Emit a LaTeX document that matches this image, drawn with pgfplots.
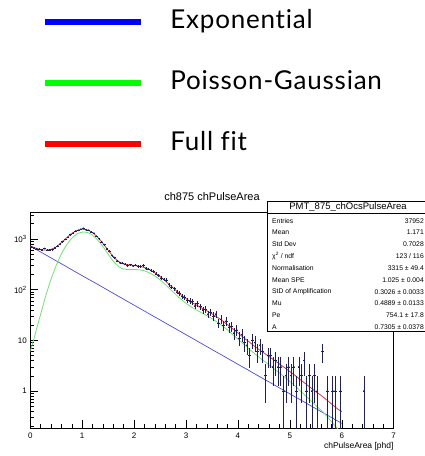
\documentclass[border=0pt]{standalone}
\usepackage{fontspec}
\setmainfont{Liberation Sans}
\newfontfamily\legfont[Ligatures=NoCommon,LetterSpace=3]{Lato}
\usepackage{pgfplots}
\usepackage{pgfplotstable}
\pgfplotsset{compat=1.18}

\definecolor{cexp}{rgb}{0.30,0.30,0.85}
\definecolor{cpg}{rgb}{0.45,0.88,0.45}
\definecolor{cfull}{rgb}{0.85,0.20,0.25}
\definecolor{cdata}{rgb}{0.12,0.12,0.35}

\pgfplotstableread{
x y
0.0 724
0.1 633
0.2 554
0.3 484
0.4 423
0.5 370
0.6 324
0.7 283
0.8 247
0.9 216
1.0 189
1.1 165
1.2 145
1.3 127
1.4 111
1.5 96.7
1.6 84.6
1.7 73.9
1.8 64.7
1.9 56.5
2.0 49.4
2.1 43.2
2.2 37.8
2.3 33.0
2.4 28.9
2.5 25.3
2.6 22.1
2.7 19.3
2.8 16.9
2.9 14.8
3.0 12.9
3.1 11.3
3.2 9.87
3.3 8.63
3.4 7.55
3.5 6.60
3.6 5.77
3.7 5.05
3.8 4.41
3.9 3.86
4.0 3.37
4.1 2.95
4.2 2.58
4.3 2.25
4.4 1.97
4.5 1.72
4.6 1.51
4.7 1.32
4.8 1.15
4.9 1.01
5.0 0.881
5.1 0.770
5.2 0.674
5.3 0.589
5.4 0.515
5.5 0.450
5.6 0.394
5.7 0.344
5.8 0.301
5.9 0.263
6.0 0.230
}\expdata

\pgfplotstableread{
x y
0.0 6
0.1 14
0.2 33
0.3 77
0.4 161
0.5 302
0.6 508
0.7 766
0.8 1035
0.9 1255
1.0 1367
1.1 1339
1.2 1184
1.3 952
1.4 707
1.5 502
1.6 363
1.7 286
1.8 255
1.9 250
2.0 250
2.1 246
2.2 235
2.3 213
2.4 187
2.5 156
2.6 127
2.7 101
2.8 81
2.9 65
3.0 54
3.1 45.7
3.2 39.8
3.3 35.0
3.4 30.7
3.5 26.8
3.6 22.9
3.7 19.3
3.8 16.0
3.9 13.0
4.0 10.6
4.1 8.6
4.2 7.0
4.3 5.7
4.4 4.69
4.5 3.92
4.6 3.27
4.7 2.73
4.8 2.27
4.9 1.88
5.0 1.54
5.1 1.26
5.2 1.01
5.3 0.81
5.4 0.65
5.5 0.52
5.6 0.42
5.7 0.33
5.8 0.25
5.9 0.19
6.0 0.15
}\pgdata

\pgfplotstableread{
x y
0.0 730
0.1 660
0.2 615
0.3 605
0.4 625
0.5 700
0.6 850
0.7 1055
0.8 1282
0.9 1471
1.0 1556
1.1 1504
1.2 1329
1.3 1079
1.4 818
1.5 599
1.6 448
1.7 360
1.8 320
1.9 307
2.0 299
2.1 289
2.2 273
2.3 246
2.4 216
2.5 181
2.6 149
2.7 120
2.8 98
2.9 80
3.0 67
3.1 57
3.2 49.7
3.3 43.6
3.4 38.3
3.5 33.4
3.6 28.7
3.7 24.4
3.8 20.4
3.9 16.9
4.0 14.0
4.1 11.5
4.2 9.6
4.3 7.95
4.4 6.66
4.5 5.64
4.6 4.78
4.7 4.05
4.8 3.42
4.9 2.89
5.0 2.42
5.1 2.03
5.2 1.68
5.3 1.40
5.4 1.17
5.5 0.97
5.6 0.82
5.7 0.68
5.8 0.56
5.9 0.46
6.0 0.39
}\fulldata

\pgfplotstableread{
x y e em
0.025 700 26.5 26.5
0.075 660 25.7 25.7
0.125 640 25.3 25.3
0.175 625 25.0 25.0
0.225 610 24.7 24.7
0.275 650 25.5 25.5
0.325 600 24.5 24.5
0.375 610 24.7 24.7
0.425 620 24.9 24.9
0.475 670 25.9 25.9
0.525 720 26.8 26.8
0.575 790 28.1 28.1
0.625 890 29.8 29.8
0.675 980 31.3 31.3
0.725 1080 32.9 32.9
0.775 1220 34.9 34.9
0.825 1310 36.2 36.2
0.875 1430 37.8 37.8
0.925 1480 38.5 38.5
0.975 1560 39.5 39.5
1.025 1620 40.2 40.2
1.075 1520 39.0 39.0
1.125 1490 38.6 38.6
1.175 1370 37.0 37.0
1.225 1300 36.1 36.1
1.275 1130 33.6 33.6
1.325 1020 31.9 31.9
1.375 870 29.5 29.5
1.425 770 27.7 27.7
1.475 640 25.3 25.3
1.525 570 23.9 23.9
1.575 470 21.7 21.7
1.625 430 20.7 20.7
1.675 370 19.2 19.2
1.725 340 18.4 18.4
1.775 335 18.3 18.3
1.825 318 17.8 17.8
1.875 300 17.3 17.3
1.925 310 17.6 17.6
1.975 296 17.2 17.2
2.025 305 17.5 17.5
2.075 290 17.0 17.0
2.125 288 17.0 17.0
2.175 300 17.3 17.3
2.225 262 16.2 16.2
2.275 255 16.0 16.0
2.325 240 15.5 15.5
2.375 228 15.1 15.1
2.425 205 14.3 14.3
2.475 192 13.9 13.9
2.525 170 13.0 13.0
2.575 160 12.6 12.6
2.625 155 12.4 12.4
2.675 125 11.2 11.2
2.725 112 10.6 10.6
2.775 105 10.2 10.2
2.825 90 9.5 9.5
2.875 86 9.3 9.3
2.925 73 8.5 8.5
2.975 71 8.4 8.4
3.025 62 7.9 7.9
3.075 60 7.7 7.7
3.125 58 7.6 7.6
3.175 48 6.9 6.9
3.225 53 7.3 7.3
3.275 46 6.8 6.8
3.325 40 6.3 6.3
3.375 41 6.4 6.4
3.425 33 5.7 5.7
3.475 36 6.0 6.0
3.525 30 5.5 5.5
3.575 33 5.7 5.7
3.625 22 4.7 4.7
3.675 26 5.1 5.1
3.725 20 4.5 4.5
3.775 24 4.9 4.9
3.825 18 4.2 4.2
3.875 19 4.4 4.4
3.925 14 3.7 3.7
3.975 16 4.0 4.0
4.025 11 3.3 3.3
4.075 13 3.6 3.6
4.125 9 3.0 3.0
4.175 8 2.8 2.8
4.225 5 2.2 2.2
4.275 10 3.2 3.2
4.325 9 3.0 3.0
4.375 6 2.4 2.4
4.425 8 2.8 2.8
4.475 6 2.4 2.4
4.525 2 1.41 1.41
4.575 5 2.2 2.2
4.625 5 2.2 2.2
4.675 3 1.73 1.73
4.725 4 2.0 2.0
4.775 3 1.73 1.73
4.825 3 1.73 1.73
4.875 1 1 0.999
4.925 2 1.41 1.41
4.975 3 1.73 1.73
5.025 2 1.41 1.41
5.075 3 1.73 1.73
5.125 1 1 0.999
5.175 3 1.73 1.73
5.225 2 1.41 1.41
5.275 4 2.0 2.0
5.325 1 1 0.999
5.375 2 1.41 1.41
5.425 1 1 0.999
5.475 2 1.41 1.41
5.525 1 1 0.999
5.625 6 2.45 2.45
5.725 1 1 0.999
5.825 1 1 0.999
5.875 1 1 0.999
5.975 1 1 0.999
6.425 1 1 0.999
}\histdata

\begin{document}
\begin{tikzpicture}[x=1pt,y=1pt]
\useasboundingbox (0pt,0pt) rectangle (425pt,456pt);
\clip (0pt,0pt) rectangle (425pt,456pt);
\begin{axis}[
  at={(30.3pt,27.7pt)}, anchor=south west, scale only axis,
  width=363.4pt, height=215.6pt,
  xmin=0, xmax=7, ymode=log, ymin=0.184, ymax=3300,
  xtick={0,1,2,3,4,5,6,7}, minor x tick num=4,
  ytick={1,10,100,1000},
  yticklabels={1,10,10\textsuperscript{2},10\textsuperscript{3}},
  minor ytick={0.2,0.3,0.4,0.5,0.6,0.7,0.8,0.9,2,3,4,5,6,7,8,9,20,30,40,50,60,70,80,90,200,300,400,500,600,700,800,900,2000,3000},
  xtick pos=bottom, ytick pos=left,
  tick align=inside,
  major tick length=8pt, minor tick length=4pt,
  every tick/.style={black, line width=0.5pt},
  axis line style={line width=0.8pt},
  /pgf/number format/assume math mode=true,
  tick label style={font=\fontsize{8}{9}\selectfont},
  xticklabel style={yshift=-1pt},
  title={ch875 chPulseArea},
  title style={at={(axis description cs:0.5,1)}, anchor=center, yshift=9.7pt, font=\fontsize{11}{12}\selectfont},
  xlabel={chPulseArea [phd]},
  xlabel style={at={(axis description cs:1,0)}, anchor=east, yshift=-17.7pt, inner sep=0pt, font=\fontsize{8.5}{9}\selectfont},
  legend style={at={(axis description cs:0.0322,1.9394)}, anchor=north west, draw=none, fill=none, inner sep=0pt,
    row sep=37.5pt, column sep=26.7pt, font=\legfont\fontsize{26}{26}\selectfont,
    nodes={inner sep=0pt, text height=18.5pt, text depth=5pt}},
  legend cell align=left,
  legend image code/.code={\draw[#1,line width=5.5pt] (0pt,0pt) -- (96pt,0pt);},
]
\addplot[cexp, line width=0.7pt, forget plot] table[x=x,y=y] {\expdata};
\addplot[cpg, line width=0.8pt, smooth, forget plot] table[x=x,y=y] {\pgdata};
\addplot[cfull, line width=0.8pt, smooth, forget plot] table[x=x,y=y] {\fulldata};
\addplot[cdata, only marks, mark=*, mark size=0.6pt, forget plot,
  error bars/.cd, y dir=both, y explicit, x dir=both, x fixed=0.025,
  error bar style={cdata, line width=0.6pt}, error mark=none]
  table[x=x,y=y,y error plus=e,y error minus=em] {\histdata};
\addlegendimage{color=blue}
\addlegendentry{Exponential}
\addlegendimage{color=green}
\addlegendentry{Poisson-Gaussian}
\addlegendimage{color=red}
\addlegendentry{Full fit}
\end{axis}
\draw[line width=0.8pt, fill=white] (267.7pt,124.3pt) rectangle (432pt,255pt);
\draw[line width=0.6pt] (267.7pt,242.7pt) -- (432pt,242.7pt);
\node[font=\fontsize{9.5}{10}\selectfont, anchor=center] at (348pt,248.8pt) {PMT\_875\_chOcsPulseArea};
\begin{scope}[every node/.style={font=\fontsize{6.8}{7}\selectfont, inner sep=0pt}]
\node[anchor=west] at (272pt,235.3pt) {Entries};
\node[anchor=east] at (424pt,235.3pt) {37952};
\node[anchor=west] at (272pt,223.4pt) {Mean};
\node[anchor=east] at (424pt,223.4pt) {1.171};
\node[anchor=west] at (272pt,211.6pt) {Std Dev};
\node[anchor=east] at (424pt,211.6pt) {0.7028};
\node[anchor=west] at (272pt,199.8pt) {χ\textsuperscript{2} / ndf};
\node[anchor=east] at (424pt,199.8pt) {123 / 116};
\node[anchor=west] at (272pt,187.9pt) {Normalisation};
\node[anchor=east] at (424pt,187.9pt) {3315 ± 49.4};
\node[anchor=west] at (272pt,176.1pt) {Mean SPE};
\node[anchor=east] at (424pt,176.1pt) {1.025 ± 0.004};
\node[anchor=west] at (272pt,164.2pt) {StD of Amplification};
\node[anchor=east] at (424pt,164.2pt) {0.3026 ± 0.0033};
\node[anchor=west] at (272pt,152.4pt) {Mu};
\node[anchor=east] at (424pt,152.4pt) {0.4889 ± 0.0133};
\node[anchor=west] at (272pt,140.6pt) {Pe};
\node[anchor=east] at (424pt,140.6pt) {754.1 ± 17.8};
\node[anchor=west] at (272pt,128.8pt) {A};
\node[anchor=east] at (424pt,128.8pt) {0.7305 ± 0.0378};
\end{scope}
\end{tikzpicture}
\end{document}
